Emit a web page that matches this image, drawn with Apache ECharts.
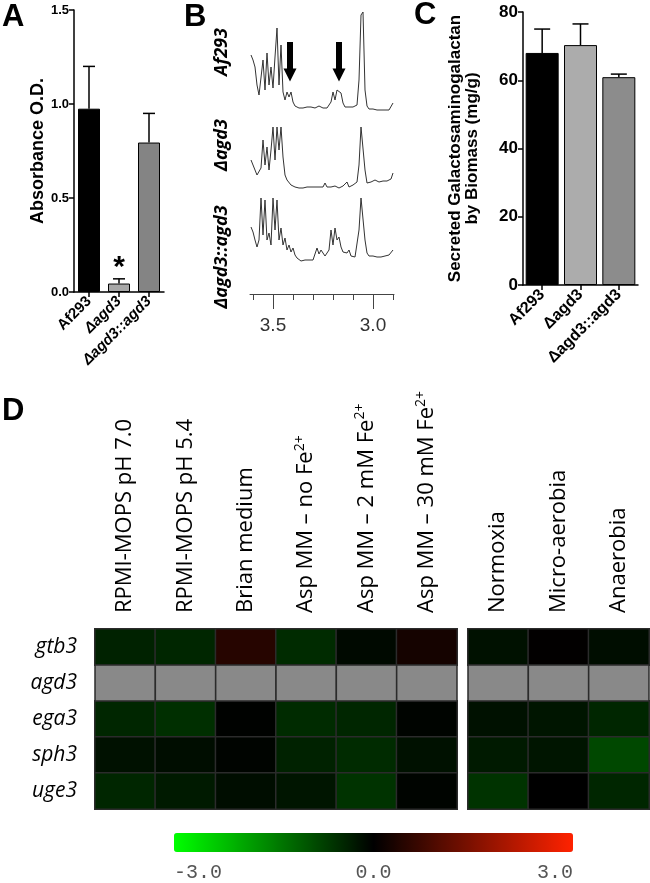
<!DOCTYPE html>
<html>
<head>
<meta charset="utf-8">
<script src="https://cdn.jsdelivr.net/npm/echarts@6/dist/echarts.min.js"></script>
<style>
html, body { margin: 0; padding: 0; background: #fff; }
#chart { width: 650px; height: 883px; }
</style>
</head>
<body>
<div id="chart"></div>
<script>
// A - absorbance
var strainsA = ['Af293', 'Δagd3', 'Δagd3::agd3'];
var absorbance = [0.975, 0.045, 0.795];
var absorbanceErr = [0.225, 0.025, 0.155];

// B - NMR traces (ppm, intensity above baseline)
var ppmPoints = [3.61,3.60,3.59,3.58,3.57,3.56,3.55,3.54,3.53,3.52,3.51,3.50,3.49,3.48,3.47,3.46,3.45,3.44,3.43,3.42,3.41,3.40,3.39,3.38,3.37,3.36,3.35,3.34,3.33,3.32,3.31,3.30,3.29,3.28,3.27,3.26,3.25,3.24,3.23,3.22,3.21,3.20,3.19,3.18,3.17,3.16,3.15,3.14,3.13,3.12,3.11,3.10,3.09,3.08,3.07,3.06,3.05,3.04,3.03,3.02,3.01,3.00,2.99,2.98,2.97,2.96,2.95,2.94,2.93,2.92,2.91,2.90];
var af293Trace = [53,48,41,23,13,11,48,18,55,23,41,20,51,80,23,63,16,8,16,11,16,6,2,1,
  0,1,0,2,1,0,1,2,0,1,2,1,0,1,0,1,
  6,16,8,18,16,15,5,1,
  0,1,0,1,2,3,
  28,93,96,18,2,
  -1,-2,-1,-3,-2,-1,-2,-3,-2,-1,-2,-1,5];
var agd3Trace = [28,23,18,13,12,20,48,23,41,18,38,61,28,61,38,61,31,13,8,6,3,2,
  1,2,0,1,0,2,1,0,1,0,1,2,1,0,1,5,1,0,
  1,0,2,1,0,1,2,1,6,1,2,3,4,6,
  23,61,61,18,5,
  7,6,7,8,7,6,7,7,8,7,6,9,15];
var compTrace = [35,30,22,15,22,64,27,62,22,29,17,64,32,62,22,34,17,24,12,17,10,14,7,4,
  2,1,3,2,1,2,3,2,4,
  14,8,12,12,6,5,12,32,17,34,22,25,15,10,12,9,12,6,7,5,7,
  32,64,64,22,9,
  6,5,6,4,5,6,5,4,6,5,7,6,12];
var arrowPpm = [3.415, 3.17];
var ppmTicks = [3.6, 3.5, 3.4, 3.3, 3.2, 3.1, 3.0, 2.9];
var ppmLabels = [3.5, 3.0];

// C - secreted GAG
var strainsC = ['Af293', 'Δagd3', 'Δagd3::agd3'];
var gag = [68.0, 70.3, 60.9];
var gagErr = [7.0, 6.2, 0.9];

// D - expression heatmap (null = no data)
var genes = ['gtb3', 'agd3', 'ega3', 'sph3', 'uge3'];
var mediaConds = ['RPMI-MOPS pH 7.0', 'RPMI-MOPS pH 5.4', 'Brian medium',
  'Asp MM – no Fe²⁺', 'Asp MM – 2 mM Fe²⁺', 'Asp MM – 30 mM Fe²⁺'];
var oxygenConds = ['Normoxia', 'Micro-aerobia', 'Anaerobia'];
var mediaExpr = [
  [-0.4, -0.45, 0.45, -0.5, -0.1, 0.25],
  [null, null, null, null, null, null],
  [-0.45, -0.55, -0.02, -0.5, -0.45, -0.05],
  [-0.2, -0.15, -0.05, -0.4, -0.5, -0.2],
  [-0.45, -0.3, -0.15, -0.25, -0.6, -0.05]
];
var oxygenExpr = [
  [-0.2, 0.02, -0.15],
  [null, null, null],
  [-0.2, -0.25, -0.45],
  [-0.3, -0.25, -0.85],
  [-0.6, 0.0, -0.45]
];
var scaleLabels = [-3, 0, 3];

var colorsA = ['#000000', '#a8a8a8', '#848484'];
var colorsC = ['#000000', '#acacac', '#8c8c8c'];

function heatData(expr) {
	var out = [];
	expr.forEach(function(row, r) {
		row.forEach(function(v, c) {
			if (v !== null) out.push([c, r, v]);
		});
	});
	return out;
}
function grayData(expr) {
	var out = [];
	expr.forEach(function(row, r) {
		row.forEach(function(v, c) {
			if (v === null) out.push([c, r]);
		});
	});
	return out;
}
function traceData(vals) {
	return ppmPoints.map(function(p, i) { return [p, vals[i]]; });
}
function errorBar(capHalf) {
	return function(params, api) {
		var x = api.value(0);
		var p0 = api.coord([x, api.value(1)]);
		var p1 = api.coord([x, api.value(1) + api.value(2)]);
		var st = { stroke: '#000', lineWidth: 1.5 };
		return { type: 'group', children: [
			{ type: 'line', shape: { x1: p0[0], y1: p0[1], x2: p1[0], y2: p1[1] }, style: st },
			{ type: 'line', shape: { x1: p1[0] - capHalf, y1: p1[1], x2: p1[0] + capHalf, y2: p1[1] }, style: st }
		] };
	};
}
function grayCell(params, api) {
	var c = api.coord([api.value(0), api.value(1)]);
	var s = api.size([1, 1]);
	return { type: 'rect', shape: { x: c[0] - s[0] / 2, y: c[1] - s[1] / 2, width: s[0], height: s[1] },
		style: { fill: '#898989', stroke: '#2b2b2b', lineWidth: 1.5 } };
}
var italicLabel = function(v) { return v.charAt(0) === 'Δ' ? '{it|' + v + '}' : v; };
var supLabel = function(v) { return v.replace('²⁺', '{sup|2+}'); };
var hiddenValue = function(g, mn, mx) {
	return { gridIndex: g, type: 'value', min: mn, max: mx, show: false, splitLine: { show: false } };
};
var ppmAxis = function(g) {
	return { gridIndex: g, type: 'value', min: 2.895, max: 3.615, inverse: true, show: false, splitLine: { show: false } };
};
var condLabel = { interval: 0, rotate: -90, margin: 16, fontSize: 22, lineHeight: 26, fontFamily: 'Open Sans', color: '#000',
	formatter: supLabel, rich: { sup: { fontSize: 14, verticalAlign: 'top', fontFamily: 'Open Sans', color: '#000' } } };
var blackAxis = { show: true, onZero: false, lineStyle: { color: '#000', width: 1.5 } };
var blackTick = { show: true, length: 5, lineStyle: { color: '#000', width: 1.5 } };
var panelFont = { fontFamily: 'Liberation Sans', fontWeight: 'bold', fontSize: 31, fill: '#000' };
function panelLetter(t, x, y) {
	return { type: 'text', x: x, y: y, style: Object.assign({ text: t }, panelFont) };
}
function strainLabel(t, x, y) {
	return { type: 'text', x: x, y: y, rotation: Math.PI / 2,
		style: { text: t, align: 'center', verticalAlign: 'middle', fontFamily: 'Open Sans',
			fontWeight: 'bold', fontStyle: 'italic', fontSize: 18, fill: '#000' } };
}

var myChart = echarts.init(document.getElementById('chart'));
var option = {
	animation: false,
	backgroundColor: '#fff',
	textStyle: { fontFamily: 'Liberation Sans' },
	grid: [
		{ left: 74, top: 10, width: 90, height: 282 },
		{ left: 250, top: 5, width: 144, height: 110 },
		{ left: 250, top: 120, width: 144, height: 75 },
		{ left: 250, top: 195, width: 144, height: 75 },
		{ left: 523, top: 12, width: 115, height: 273 },
		{ left: 95, top: 629, width: 362, height: 180 },
		{ left: 468, top: 629, width: 181, height: 180 },
		{ left: 174, top: 833, width: 399, height: 19 }
	],
	xAxis: [
		{ gridIndex: 0, type: 'category', data: strainsA, axisLine: blackAxis,
			axisTick: { show: true, alignWithLabel: true, length: 5, lineStyle: { color: '#000', width: 1.5 } },
			axisLabel: { interval: 0, rotate: 45, margin: 7, fontSize: 15, fontWeight: 'bold', color: '#000',
				formatter: italicLabel, rich: { it: { fontSize: 15, fontWeight: 'bold', fontStyle: 'italic' } } } },
		ppmAxis(1),
		ppmAxis(2),
		{ gridIndex: 3, type: 'value', min: 2.895, max: 3.615, inverse: true, position: 'bottom', offset: 24,
			axisLine: { show: true, onZero: false, lineStyle: { color: '#444', width: 1 } },
			axisTick: { show: true, customValues: ppmTicks, length: 6, lineStyle: { color: '#444' } },
			axisLabel: { show: false }, splitLine: { show: false } },
		{ gridIndex: 3, type: 'value', min: 2.895, max: 3.615, inverse: true, position: 'bottom', offset: 24,
			axisLine: { show: false, onZero: false },
			axisTick: { show: true, customValues: ppmLabels, length: 15, lineStyle: { color: '#444' } },
			axisLabel: { show: true, customValues: ppmLabels, margin: 22, fontSize: 19, color: '#333',
				formatter: function(v) { return v.toFixed(1); } },
			splitLine: { show: false } },
		{ gridIndex: 4, type: 'category', data: strainsC, axisLine: blackAxis,
			axisTick: { show: true, alignWithLabel: true, length: 5, lineStyle: { color: '#000', width: 1.5 } },
			axisLabel: { interval: 0, rotate: 45, margin: 7, fontSize: 16, fontWeight: 'bold', color: '#000' } },
		{ gridIndex: 5, type: 'category', data: mediaConds, position: 'top',
			axisLine: { show: false }, axisTick: { show: false }, axisLabel: condLabel },
		{ gridIndex: 6, type: 'category', data: oxygenConds, position: 'top',
			axisLine: { show: false }, axisTick: { show: false }, axisLabel: condLabel },
		{ gridIndex: 7, type: 'value', min: -3, max: 3, interval: 3,
			axisLine: { show: false, onZero: false }, axisTick: { show: false }, splitLine: { show: false },
			axisLabel: { customValues: scaleLabels, margin: 16, fontSize: 20, fontFamily: 'Liberation Mono', color: '#555',
				alignMinLabel: 'left', alignMaxLabel: 'right', formatter: function(v) { return v.toFixed(1); } } }
	],
	yAxis: [
		{ gridIndex: 0, type: 'value', min: 0, max: 1.5, interval: 0.5,
			name: 'Absorbance O.D.', nameLocation: 'middle', nameGap: 24,
			nameTextStyle: { fontSize: 18, fontWeight: 'bold', color: '#000' },
			axisLine: blackAxis, axisTick: blackTick, splitLine: { show: false },
			axisLabel: { fontSize: 13, fontWeight: 'bold', color: '#000', margin: 5,
				formatter: function(v) { return v.toFixed(1); } } },
		hiddenValue(1, -7, 103),
		hiddenValue(2, -7, 68),
		hiddenValue(3, -8, 67),
		{ gridIndex: 4, type: 'value', min: 0, max: 80, interval: 20,
			name: 'Secreted Galactosaminogalactan\nby Biomass (mg/g)', nameLocation: 'middle', nameGap: 42,
			nameTextStyle: { fontSize: 17, fontWeight: 'bold', color: '#000', lineHeight: 17 },
			axisLine: blackAxis, axisTick: blackTick, splitLine: { show: false },
			axisLabel: { fontSize: 17, fontWeight: 'bold', color: '#000', margin: 5 } },
		{ gridIndex: 5, type: 'category', data: genes, inverse: true,
			axisLine: { show: false }, axisTick: { show: false },
			axisLabel: { margin: 18, fontSize: 21, fontStyle: 'italic', fontFamily: 'Open Sans', color: '#000' } },
		{ gridIndex: 6, type: 'category', data: genes, inverse: true,
			axisLine: { show: false }, axisTick: { show: false }, axisLabel: { show: false } },
		hiddenValue(7, 0, 1)
	],
	visualMap: [{
		type: 'continuous', min: -3, max: 3, seriesIndex: [7, 8],
		orient: 'horizontal', left: 174, top: 833, itemWidth: 19, itemHeight: 399,
		padding: 0, calculable: false, hoverLink: false, text: null,
		inRange: { color: ['#00ff00', '#000000', '#ff2200'] }
	}],
	series: [
		{ type: 'bar', xAxisIndex: 0, yAxisIndex: 0, barWidth: 22, silent: true,
			data: absorbance.map(function(v, i) {
				return { value: v, itemStyle: { color: colorsA[i], borderColor: '#000', borderWidth: 1 } };
			}),
			markPoint: { symbol: 'circle', symbolSize: 1, itemStyle: { color: 'rgba(0,0,0,0)' },
				label: { show: true, position: 'inside', formatter: '*', fontSize: 30, fontWeight: 'bold', color: '#000' },
				data: [{ coord: ['Δagd3', 0.128] }] } },
		{ type: 'custom', xAxisIndex: 0, yAxisIndex: 0, renderItem: errorBar(6), silent: true,
			encode: { x: 0, y: 1 },
			data: absorbance.map(function(v, i) { return [i, v, absorbanceErr[i]]; }) },
		{ type: 'line', xAxisIndex: 1, yAxisIndex: 1, data: traceData(af293Trace), showSymbol: false, silent: true,
			lineStyle: { color: '#333', width: 1 },
			markLine: { silent: true, symbol: ['none', 'triangle'], symbolSize: 13,
				label: { show: false }, lineStyle: { color: '#000', width: 6, type: 'solid' },
				data: arrowPpm.map(function(p) { return [{ coord: [p, 66] }, { coord: [p, 33] }]; }) } },
		{ type: 'line', xAxisIndex: 2, yAxisIndex: 2, data: traceData(agd3Trace), showSymbol: false, silent: true,
			lineStyle: { color: '#333', width: 1 } },
		{ type: 'line', xAxisIndex: 3, yAxisIndex: 3, data: traceData(compTrace), showSymbol: false, silent: true,
			lineStyle: { color: '#333', width: 1 } },
		{ type: 'bar', xAxisIndex: 5, yAxisIndex: 4, barWidth: 33, silent: true,
			data: gag.map(function(v, i) {
				return { value: v, itemStyle: { color: colorsC[i], borderColor: '#000', borderWidth: 1 } };
			}) },
		{ type: 'custom', xAxisIndex: 5, yAxisIndex: 4, renderItem: errorBar(8), silent: true,
			encode: { x: 0, y: 1 },
			data: gag.map(function(v, i) { return [i, v, gagErr[i]]; }) },
		{ type: 'heatmap', xAxisIndex: 6, yAxisIndex: 5, data: heatData(mediaExpr), silent: true,
			itemStyle: { borderColor: '#2b2b2b', borderWidth: 1.5 }, emphasis: { disabled: true } },
		{ type: 'heatmap', xAxisIndex: 7, yAxisIndex: 6, data: heatData(oxygenExpr), silent: true,
			itemStyle: { borderColor: '#2b2b2b', borderWidth: 1.5 }, emphasis: { disabled: true } },
		{ type: 'custom', xAxisIndex: 6, yAxisIndex: 5, renderItem: grayCell, silent: true,
			encode: { x: 0, y: 1 }, data: grayData(mediaExpr) },
		{ type: 'custom', xAxisIndex: 7, yAxisIndex: 6, renderItem: grayCell, silent: true,
			encode: { x: 0, y: 1 }, data: grayData(oxygenExpr) }
	],
	graphic: [
		panelLetter('A', 2, 2),
		panelLetter('B', 184, 2),
		panelLetter('C', 414, 0),
		panelLetter('D', 2, 396),
		strainLabel('Af293', 222, 52),
		strainLabel('Δagd3', 222, 145),
		strainLabel('Δagd3::agd3', 222, 257)
	]
};
myChart.setOption(option, true);
</script>
</body>
</html>
